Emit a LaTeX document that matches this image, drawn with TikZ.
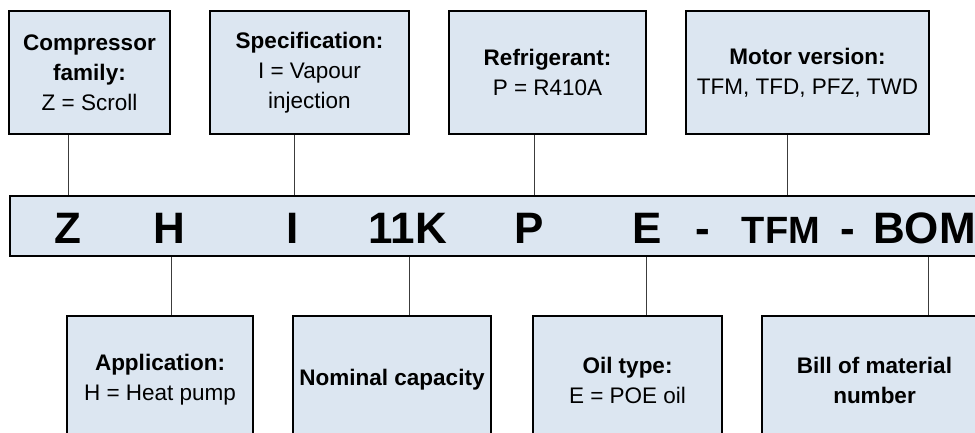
\documentclass[tikz,border=0pt]{standalone}
\usepackage{fontspec}
\setmainfont{Liberation Sans}
\definecolor{boxfill}{RGB}{220,230,241}
\definecolor{linkgray}{RGB}{60,60,60}
\begin{document}
\begin{tikzpicture}[x=1pt,y=-1pt,
  infobox/.style={draw=black, line width=2pt, fill=boxfill, minimum width=#1,
    minimum height=123pt, inner sep=0pt, align=center,
    font=\fontsize{22.5}{30}\selectfont},
  lowbox/.style={infobox=#1, minimum height=128pt},
  codebar/.style={draw=black, line width=2pt, fill=boxfill, inner sep=0pt,
    minimum width=990pt, minimum height=60pt, anchor=north west},
  code/.style={font=\fontsize{44}{44}\bfseries\selectfont, anchor=base, inner sep=0pt},
  codesmall/.style={font=\fontsize{38}{38}\bfseries\selectfont, anchor=base, inner sep=0pt},
  link/.style={draw=linkgray, line width=1pt}]
\useasboundingbox (0,0) rectangle (975,432);
\clip (0,0) rectangle (975,432);

% code bar
\node[codebar] (bar) at (9,195) {};
\node[code] (lZ) at (68,243) {Z};
\node[code] (lH) at (169,243) {H};
\node[code] (lI) at (293,243) {I};
\node[code] (lK) at (408,243) {11K};
\node[code] (lP) at (529,243) {P};
\node[code] (lE) at (647,243) {E};
\node[code] (d1) at (703,243) {-};
\node[codesmall] (lT) at (781,243) {TFM};
\node[code] (d2) at (848,243) {-};
\node[code, anchor=base west] (lB) at (873,243) {BOM};

% connector x positions
\coordinate (kZ) at (68,0);
\coordinate (kH) at (171,0);
\coordinate (kI) at (294,0);
\coordinate (kK) at (409,0);
\coordinate (kP) at (534,0);
\coordinate (kE) at (646,0);
\coordinate (kT) at (787,0);
\coordinate (kB) at (928,0);

% top boxes
\node[infobox=161pt] (family) at (89.5,72.5) {\textbf{Compressor}\\\textbf{family:}\\Z = Scroll};
\node[infobox=199pt] (spec) at (309.5,72.5) {\textbf{Specification:}\\I = Vapour\\injection};
\node[infobox=197pt] (refr) at (547.5,72.5) {\textbf{Refrigerant:}\\P = R410A};
\node[infobox=243pt] (motor) at (807.5,72.5) {\textbf{Motor version:}\\TFM, TFD, PFZ, TWD};

% bottom boxes
\node[lowbox=186pt] (appl) at (160,380) {\textbf{Application:}\\H = Heat pump};
\node[lowbox=198pt] (nom) at (392,380) {\textbf{Nominal capacity}};
\node[lowbox=189pt] (oil) at (627.5,380) {\textbf{Oil type:}\\E = POE oil};
\node[lowbox=225pt] (bom) at (874.5,380) {\textbf{Bill of material}\\\textbf{number}};

% connectors
\draw[link] (family.south -| kZ) -- (bar.north -| kZ);
\draw[link] (spec.south -| kI) -- (bar.north -| kI);
\draw[link] (refr.south -| kP) -- (bar.north -| kP);
\draw[link] (motor.south -| kT) -- (bar.north -| kT);
\draw[link] (bar.south -| kH) -- (appl.north -| kH);
\draw[link] (bar.south -| kK) -- (nom.north -| kK);
\draw[link] (bar.south -| kE) -- (oil.north -| kE);
\draw[link] (bar.south -| kB) -- (bom.north -| kB);
\end{tikzpicture}
\end{document}
